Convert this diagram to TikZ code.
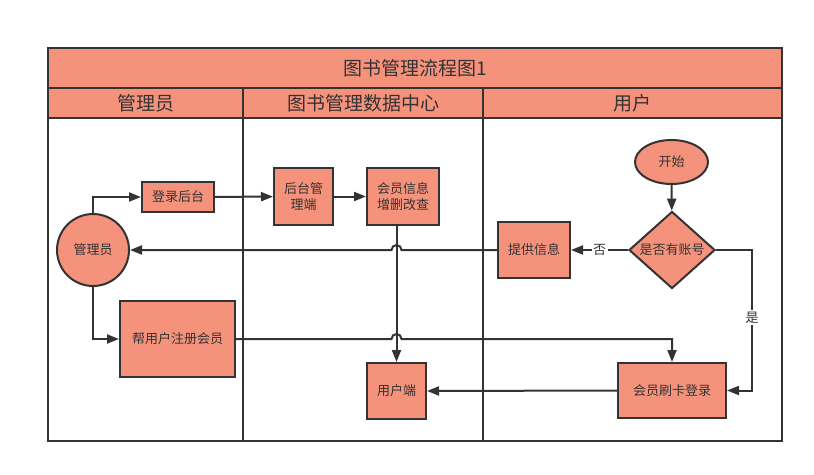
\documentclass[tikz,border=0pt]{standalone}
\usepackage{fontspec}
\setmainfont{Noto Sans CJK SC}
\usetikzlibrary{arrows.meta,shapes.geometric}
\definecolor{salmon}{RGB}{245,146,124}
\definecolor{ink}{RGB}{51,51,51}

\begin{document}
\begin{tikzpicture}[x=1pt,y=-1pt,
    box/.style={draw=ink,line width=2pt,fill=salmon,text=ink,font=\fontsize{13}{16}\selectfont,align=center,inner sep=0pt},
    flow/.style={draw=ink,line width=2pt,-{Triangle[length=12pt,width=9pt]}},
    lane/.style={draw=ink,line width=2.5pt},
    tag/.style={fill=white,text=ink,font=\fontsize{13}{16}\selectfont,inner sep=1.5pt}]
    \useasboundingbox (0,0) rectangle (814,474);
    % swimlanes
    \fill[salmon] (48,48) rectangle (782,118);
    \draw[lane] (48,48) rectangle (782,441);
    \draw[lane] (48,88) -- (782,88); \draw[lane] (48,118) -- (782,118);
    \draw[lane] (243,88) -- (243,441); \draw[lane] (483,88) -- (483,441);
    \node[text=ink,font=\fontsize{19}{22}\selectfont] (title) at (415,68) {图书管理流程图1};
    \node[text=ink,font=\fontsize{19}{22}\selectfont] (laneA) at (145.5,103) {管理员};
    \node[text=ink,font=\fontsize{19}{22}\selectfont] (laneB) at (363,103) {图书管理数据中心};
    \node[text=ink,font=\fontsize{19}{22}\selectfont] (laneC) at (632.5,103) {用户};
    % nodes
    \node[box,circle,minimum size=72pt] (admin) at (93,250) {管理员};
    \node[box,minimum width=72pt,minimum height=30pt] (login) at (178,197) {登录后台};
    \node[box,minimum width=115pt,minimum height=76pt] (reg) at (177.5,339) {帮用户注册会员};
    \node[box,minimum width=59pt,minimum height=57pt] (backend) at (303.5,196.5) {后台管\\理端};
    \node[box,minimum width=72pt,minimum height=57pt] (crud) at (403,196.5) {会员信息\\增删改查};
    \node[box,minimum width=59pt,minimum height=56pt] (client) at (396.5,391) {用户端};
    \node[box,ellipse,minimum width=73pt,minimum height=44pt] (start) at (671.5,162) {开始};
    \node[box,diamond,minimum width=86pt,minimum height=76pt] (check) at (672,250) {是否有账号};
    \node[box,minimum width=72pt,minimum height=56pt] (info) at (534,250) {提供信息};
    \node[box,minimum width=108pt,minimum height=55pt] (card) at (672,390.5) {会员刷卡登录};
    % connectors
    \draw[flow] (admin.north) |- (login.west);
    \draw[flow] (admin.south) |- (reg.west);
    \draw[flow] (login) -- (backend);
    \draw[flow] (backend) -- (crud);
    \draw[flow] (crud.south -| client.north) -- (client.north);
    \draw[flow] (start) -- (check);
    \draw[flow] (check.west) -- node[tag] {否} (info.east);
    \draw[flow] (info.west) -- ([xshift=5pt]client.north |- info.west) arc[start angle=0,end angle=180,radius=5pt] -- (admin.east);
    \draw[flow] (reg.east) -- ([xshift=-5pt]client.north |- reg.east) arc[start angle=180,end angle=0,radius=5pt] -- (reg.east -| card.north) -- (card.north);
    \draw[flow] (check.east) -- ++(36,0) |- node[tag,pos=0.24] {是} (card.east);
    \draw[flow] (card.west) -- (client.east);
\end{tikzpicture}
\end{document}
